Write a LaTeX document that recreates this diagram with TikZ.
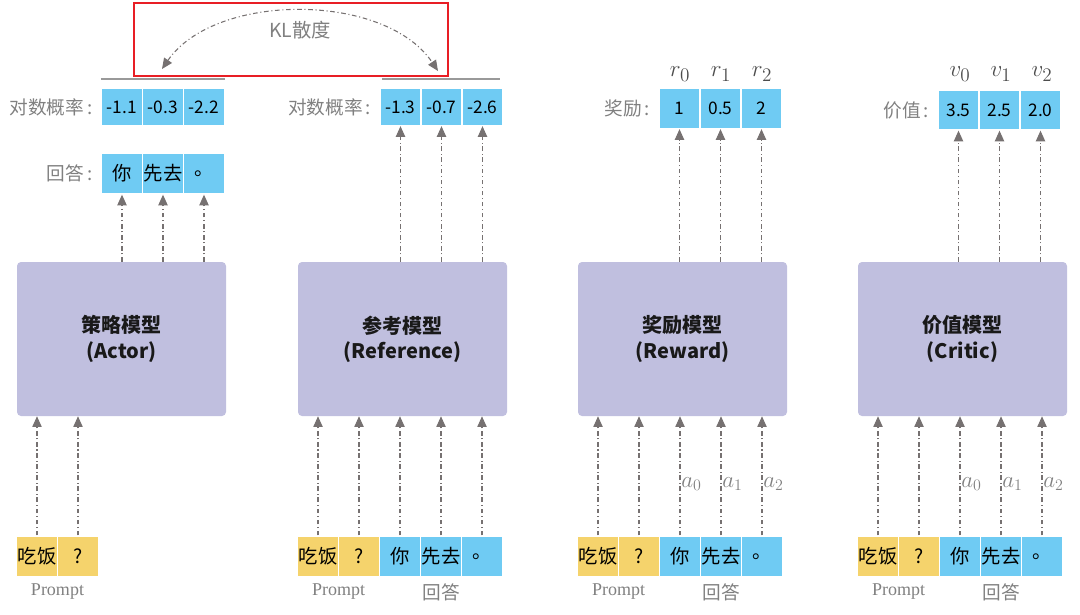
\documentclass[tikz,border=0pt]{standalone}
\usepackage{fontspec}
\setmainfont{Noto Sans CJK SC}
\newfontfamily\seriffam{Liberation Serif}
\usetikzlibrary{arrows.meta}
\definecolor{cblue}{HTML}{6FCBF3}
\definecolor{cyel}{HTML}{F5D36C}
\definecolor{cbox}{HTML}{C0BFDF}
\definecolor{cgray}{HTML}{767171}
\definecolor{ltxt}{HTML}{808080}
\definecolor{kred}{HTML}{E81E25}
\tikzset{
  cellb/.style={fill=cblue, draw=white, line width=1pt, minimum width=30.75pt, minimum height=30.75pt, inner sep=0pt, font=\fontsize{14.5}{14.5}\selectfont, text=black},
  celly/.style={cellb, fill=cyel},
  celllp/.style={cellb, minimum height=27.75pt, font=\fontsize{13}{13}\selectfont},
  cellrw/.style={cellb, minimum height=30pt, font=\fontsize{13}{13}\selectfont},
  modelbox/.style={fill=cbox, draw=none, rounded corners=3pt, minimum width=156.75pt, minimum height=115.5pt, align=center, font=\fontsize{15}{19}\selectfont\bfseries, text=black!90},
  tip/.tip={Triangle[width=7pt,length=8pt]},
  arr/.style={draw=cgray, line width=0.8pt, dash pattern=on 3.5pt off 2pt on 0.8pt off 2pt, -tip},
  lab/.style={text=ltxt, font=\fontsize{14}{14}\selectfont, anchor=east, inner sep=0pt},
  sublab/.style={text=ltxt, font=\fontsize{14}{14}\selectfont, inner sep=0pt},
  plab/.style={text=ltxt, font=\seriffam\fontsize{13.5}{13.5}\selectfont, inner sep=0pt},
  alab/.style={text=ltxt, font=\fontsize{18}{18}\selectfont, anchor=west, inner sep=0pt},
  rlab/.style={text=black!70, font=\fontsize{19}{19}\selectfont, inner sep=0pt},
  gline/.style={draw=black!40, line width=1.1pt},
}
\begin{document}
\begin{tikzpicture}[x=0.75pt,y=-0.75pt]
\useasboundingbox (0,0) rectangle (1080,614);

% ---------------- KL ----------------
\node[draw=kred, line width=1.5pt, minimum width=235.5pt, minimum height=54.75pt, inner sep=0pt] (klbox) at (291,39.5) {};
\node[text=ltxt, font=\fontsize{14.5}{14.5}\selectfont] (kl) at (300,30) {KL散度};
\coordinate (klL) at (162,69);
\coordinate (klR) at (438,71);
\draw[arr, tip-tip] (klL) .. controls (215,-8) and (385,-8) .. (klR);

% ---------------- Actor ----------------
\node[modelbox] (Abox) at (121.5,339) {策略模型\\(Actor)};
\node[celly] (Ap1) at (37,556.5) {吃饭};
\node[celly] (Ap2) at (78,556.5) {?};
\node[plab] (Aprompt) at (57.5,592) {Prompt};
\node[cellb] (At1) at (122,173.5) {你};
\node[cellb] (At2) at (163,173.5) {先去};
\node[cellb] (At3) at (204,173.5) {。};
\node[celllp] (Al1) at (122,107) {-1.1};
\node[celllp] (Al2) at (163,107) {-0.3};
\node[celllp] (Al3) at (204,107) {-2.2};
\node[lab] (AlabL) at ([xshift=-6pt]Al1.west) {对数概率\,:};
\node[lab] (AlabT) at ([xshift=-6pt]At1.west) {回答\,:};
\draw[gline] ([yshift=6.75pt]Al1.north west) -- ([yshift=6.75pt]Al3.north east);
\foreach \i in {1,2} \draw[arr] (Ap\i.north) -- (Ap\i.north |- Abox.south);
\foreach \i in {1,2,3} \draw[arr] (Abox.north -| At\i) -- (At\i.south);

% ---------------- Reference ----------------
\node[modelbox] (Rbox) at (402.5,339) {参考模型\\(Reference)};
\node[celly] (Rp1) at (318,556.5) {吃饭};
\node[celly] (Rp2) at (359,556.5) {?};
\node[cellb] (Rp3) at (400,556.5) {你};
\node[cellb] (Rp4) at (441,556.5) {先去};
\node[cellb] (Rp5) at (482,556.5) {。};
\node[plab] (Rprompt) at (338.5,592) {Prompt};
\node[sublab] (Rans) at (441,592) {回答};
\node[celllp] (Rl1) at (400.5,107) {-1.3};
\node[celllp] (Rl2) at (441.5,107) {-0.7};
\node[celllp] (Rl3) at (482.5,107) {-2.6};
\node[lab] (RlabL) at ([xshift=-6pt]Rl1.west) {对数概率\,:};
\draw[gline] ([yshift=6.75pt,xshift=2pt]Rl1.north west) -- ([yshift=6.75pt,xshift=-3pt]Rl3.north east);
\foreach \i in {1,...,5} \draw[arr] (Rp\i.north) -- (Rp\i.north |- Rbox.south);
\foreach \i in {1,2,3} \draw[arr] (Rbox.north -| Rl\i) -- (Rl\i.south);

% ---------------- Reward ----------------
\node[modelbox] (Wbox) at (682.5,339) {奖励模型\\(Reward)};
\node[celly] (Wp1) at (598,556.5) {吃饭};
\node[celly] (Wp2) at (639,556.5) {?};
\node[cellb] (Wp3) at (680,556.5) {你};
\node[cellb] (Wp4) at (721,556.5) {先去};
\node[cellb] (Wp5) at (762,556.5) {。};
\node[plab] (Wprompt) at (618.5,592) {Prompt};
\node[sublab] (Wans) at (721,592) {回答};
\node[cellrw] (Wr1) at (679.5,108.5) {1};
\node[cellrw] (Wr2) at (720.5,108.5) {0.5};
\node[cellrw] (Wr3) at (761.5,108.5) {2};
\node[lab] (WlabL) at ([xshift=-6pt]Wr1.west) {奖励\,:};
\node[rlab] (Wrl1) at (680,74) {$r_0$};
\node[rlab] (Wrl2) at (721,74) {$r_1$};
\node[rlab] (Wrl3) at (762,74) {$r_2$};
\foreach \i in {1,...,5} \draw[arr] (Wp\i.north) -- (Wp\i.north |- Wbox.south);
\foreach \i in {1,2,3} \draw[arr] (Wbox.north -| Wr\i) -- (Wr\i.south);
\node[alab] (Wa0) at (681,484) {$a_0$};
\node[alab] (Wa1) at (722,484) {$a_1$};
\node[alab] (Wa2) at (763,484) {$a_2$};

% ---------------- Critic ----------------
\node[modelbox] (Cbox) at (962.5,339) {价值模型\\(Critic)};
\node[celly] (Cp1) at (878,556.5) {吃饭};
\node[celly] (Cp2) at (919,556.5) {?};
\node[cellb] (Cp3) at (960,556.5) {你};
\node[cellb] (Cp4) at (1001,556.5) {先去};
\node[cellb] (Cp5) at (1042,556.5) {。};
\node[plab] (Cprompt) at (898.5,592) {Prompt};
\node[sublab] (Cans) at (1001,592) {回答};
\node[cellrw] (Cv1) at (958.5,110) {3.5};
\node[cellrw] (Cv2) at (999.5,110) {2.5};
\node[cellrw] (Cv3) at (1040.5,110) {2.0};
\node[lab] (ClabL) at ([xshift=-6pt]Cv1.west) {价值\,:};
\node[rlab] (Cvl1) at (960,74) {$v_0$};
\node[rlab] (Cvl2) at (1001,74) {$v_1$};
\node[rlab] (Cvl3) at (1042,74) {$v_2$};
\foreach \i in {1,...,5} \draw[arr] (Cp\i.north) -- (Cp\i.north |- Cbox.south);
\foreach \i in {1,2,3} \draw[arr] (Cbox.north -| Cv\i) -- (Cv\i.south);
\node[alab] (Ca0) at (961,484) {$a_0$};
\node[alab] (Ca1) at (1002,484) {$a_1$};
\node[alab] (Ca2) at (1043,484) {$a_2$};
\end{tikzpicture}
\end{document}
